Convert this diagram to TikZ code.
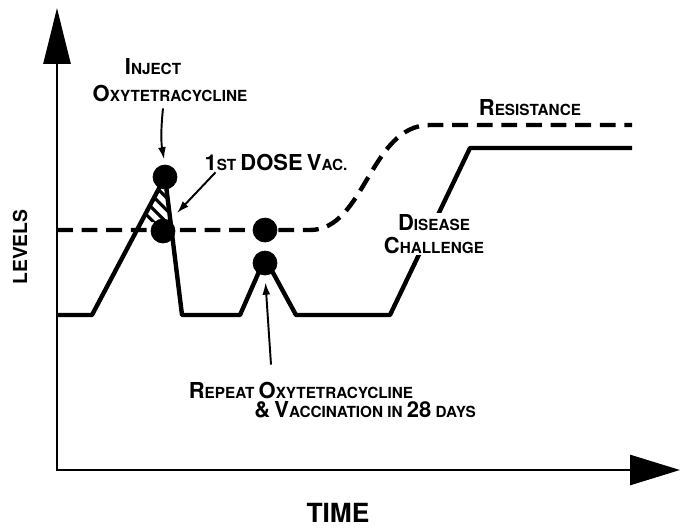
\documentclass[tikz,border=0pt]{standalone}
\usepackage{fontspec}
\setmainfont{TeX Gyre Heros}
\usetikzlibrary{arrows.meta,patterns.meta}
\newcommand\Bg[1]{{\fontsize{12.5}{12.5}\selectfont#1}}

\begin{document}
\begin{tikzpicture}[x=0.02cm,y=-0.02cm]
\tikzset{lbl/.style={font=\bfseries\fontsize{8.7}{10}\selectfont, inner sep=1pt},
  dot/.style={draw, circle, fill, minimum size=0.48cm, inner sep=0pt},
  curve/.style={line width=2.5pt, line join=round},
  ptr/.style={line width=1.1pt, -{Latex[length=7pt,width=4.5pt]}}}
\useasboundingbox (0,0) rectangle (680,528);
\draw[line width=1.6pt, {Triangle[length=1.12cm,width=0.54cm]}-{Triangle[length=1cm,width=0.6cm]}] (57,8) -- (57,470) -- (680,470);
\fill[pattern={Lines[angle=-45,distance=5pt,line width=1.8pt]}] (165,182) -- (142,222) -- (170,222) -- cycle;
\draw[curve, dash pattern=on 9pt off 5pt] (57,230) -- (310,230) .. controls (365,230) and (370,125) .. (430,125) -- (632,125);
\draw[curve] (57,315) -- (92,315) -- (165,177) -- (182,315) -- (240,315) -- (265,258) -- (296,315) -- (390,315) -- (470,148) -- (632,148);
\node[dot] (top) at (165,177) {};
\node[dot] (low) at (163,231) {};
\node[dot] (mid) at (265,230) {};
\node[dot] (peak) at (265,263) {};
\node[lbl] (inj) at (153,67) {\Bg{I}NJECT};
\node[lbl] (oxy) at (170,93) {\Bg{O}XYTETRACYCLINE};
\draw[ptr, shorten >=3pt] ([xshift=-0.14cm,yshift=-0.1cm]oxy.south) to[bend right=8] (top.north);
\node[lbl] (dose) at (276,162) {\Bg{1}ST \Bg{DOSE} \Bg{V}AC.};
\coordinate (hatch) at (177,213);
\draw[ptr] ([xshift=0.26cm]dose.south west) -- (hatch);
\node[lbl] (res) at (530,108) {\Bg{R}ESISTANCE};
\node[lbl, fill=white, align=center] (dis) at (434,234) {\Bg{D}ISEASE\\[3pt]\Bg{C}HALLENGE};
\node[lbl] (rep) at (301,390) {\Bg{R}EPEAT \Bg{O}XYTETRACYCLINE};
\node[lbl] (vac) at (365,410) {\Bg{\&} \Bg{V}ACCINATION IN \Bg{28} DAYS};
\draw[ptr, shorten >=4pt] ([xshift=-0.6cm,yshift=0.3cm]rep.north) -- (peak.south);
\node[font=\bfseries\fontsize{11}{11}\selectfont, rotate=90] (lev) at (20,247) {LEVELS};
\node[font=\bfseries\fontsize{15}{16}\selectfont] (time) at (338,513) {TIME};
\end{tikzpicture}
\end{document}
